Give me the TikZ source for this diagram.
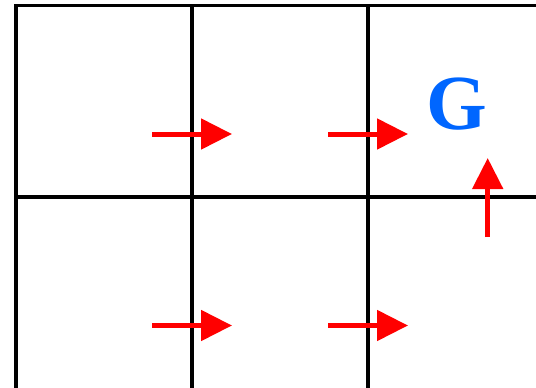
\documentclass[tikz,border=0pt]{standalone}
\usepackage{fontspec}
\setmainfont{Liberation Serif}
\usetikzlibrary{arrows.meta}
\definecolor{goalblue}{RGB}{0,102,255}
\definecolor{arrred}{RGB}{255,0,0}
\tikzset{
  gridline/.style={draw=black, line width=3.5pt},
  movearrow/.style={draw=arrred, line width=5pt, -{Triangle[length=31pt,width=30pt]}},
  goal/.style={text=goalblue, font=\fontsize{78}{78}\selectfont\bfseries, inner sep=0pt}
}
\begin{document}
\begin{tikzpicture}[x=1pt,y=-1pt]
\useasboundingbox (0,0) rectangle (536,388);
% grid
\draw[gridline] (16,392) -- (16,5.5) -- (540,5.5);
\draw[gridline] (192,5.5) -- (192,392);
\draw[gridline] (368,5.5) -- (368,392);
\draw[gridline] (16,197) -- (540,197);
% goal
\node[goal] (G) at (456.5,104.5) {G};
% arrow endpoints
\coordinate (a1s) at (152,134);
\coordinate (a1e) at (232,134);
\coordinate (a2s) at (328,134);
\coordinate (a2e) at (408,134);
\coordinate (a3s) at (152,325.5);
\coordinate (a3e) at (232,325.5);
\coordinate (a4s) at (328,325.5);
\coordinate (a4e) at (408,325.5);
\coordinate (a5s) at (487.7,237);
\coordinate (a5e) at (487.7,158);
\draw[movearrow] (a1s) -- (a1e);
\draw[movearrow] (a2s) -- (a2e);
\draw[movearrow] (a3s) -- (a3e);
\draw[movearrow] (a4s) -- (a4e);
\draw[movearrow] (a5s) -- (a5e);
\end{tikzpicture}
\end{document}
